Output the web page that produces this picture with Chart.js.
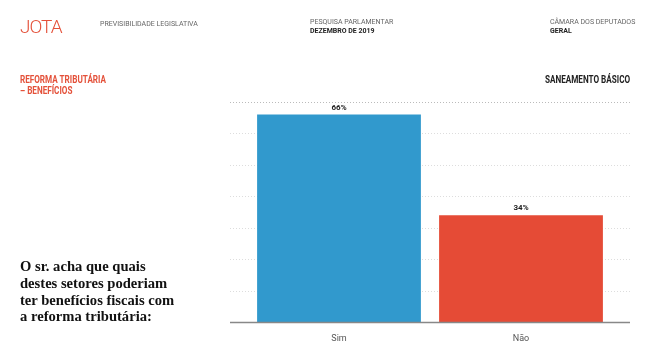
<!DOCTYPE html>
<html>
<head>
<meta charset="utf-8">
<script src="https://cdn.jsdelivr.net/npm/chart.js@4"></script>
<style>
body { margin: 0; background: #fff; font-family: Roboto, "Liberation Sans", sans-serif; }
#wrap { position: relative; width: 657px; height: 355px; overflow: hidden; }
#myChart { position: absolute; left: 0; top: 0; }
.t { position: absolute; white-space: nowrap; }
.logo { left: 20px; top: 15px; font-size: 19px; font-weight: 300; color: #e4513a; letter-spacing: -1px; }
.small { font-size: 7px; color: #666; line-height: 9px; }
.small b { color: #222; }
.title { left: 20px; top: 74px; font-family: Roboto, sans-serif; font-weight: bold; font-size: 11px; line-height: 11px; color: #e4513a; transform: scaleX(0.74); transform-origin: left top; }
.sub { right: 27px; top: 74px; font-family: Roboto, sans-serif; font-weight: bold; font-size: 11px; line-height: 11px; color: #222; transform: scaleX(0.74); transform-origin: right top; }
.q { left: 20px; top: 258px; font-family: "Liberation Serif", "DejaVu Serif", serif; font-weight: bold; font-size: 14.6px; line-height: 16.8px; color: #111; }
</style>
</head>
<body>
<div id="wrap">
<canvas id="myChart" width="657" height="355"></canvas>
<div class="t logo">JOTA</div>
<div class="t small" style="left:100px;top:20px;">PREVISIBILIDADE LEGISLATIVA</div>
<div class="t small" style="left:310px;top:18px;">PESQUISA PARLAMENTAR<br><b>DEZEMBRO DE 2019</b></div>
<div class="t small" style="left:550px;top:18px;">CÂMARA DOS DEPUTADOS<br><b>GERAL</b></div>
<div class="t title">REFORMA TRIBUTÁRIA<br>– BENEFÍCIOS</div>
<div class="t sub">SANEAMENTO BÁSICO</div>
<div class="t q">O sr. acha que quais<br>destes setores poderiam<br>ter benefícios fiscais com<br>a reforma tributária:</div>
</div>
<script>
var Categorias = ['Sim', 'Não'];
var Valores = [66, 34];
var Cores = ['#3199cd', '#e54b36'];

// linhas de grade e eixo mais largas que a área do gráfico
var gradePlugin = {
id: 'grade',
beforeDatasetsDraw: function (chart) {
var ctx = chart.ctx;
var y = chart.scales.y;
ctx.save();
for (var v = 10; v <= 70; v += 10) {
var py = Math.round(y.getPixelForValue(v)) + 0.5;
ctx.strokeStyle = v == 70 ? '#bbb' : '#ddd';
ctx.lineWidth = 1;
ctx.setLineDash([1, 2]);
ctx.beginPath();
ctx.moveTo(230, py);
ctx.lineTo(630, py);
ctx.stroke();
}
ctx.restore();
},
afterDatasetsDraw: function (chart) {
var ctx = chart.ctx;
var y = chart.scales.y;
var py = Math.round(y.getPixelForValue(0)) + 0.5;
ctx.save();
ctx.strokeStyle = '#888';
ctx.lineWidth = 1.5;
ctx.beginPath();
ctx.moveTo(230, py);
ctx.lineTo(630, py);
ctx.stroke();
// rótulos dos valores
ctx.fillStyle = '#222';
ctx.font = 'bold 8px Roboto, sans-serif';
ctx.textAlign = 'center';
ctx.textBaseline = 'bottom';
chart.getDatasetMeta(0).data.forEach(function (bar, i) {
ctx.fillText(Valores[i] + '%', bar.x, bar.y - 3);
});
ctx.restore();
}
};

new Chart('myChart', {
type: 'bar',
data: {
labels: Categorias,
datasets: [{
data: Valores,
backgroundColor: Cores,
barPercentage: 0.9,
categoryPercentage: 1.0
}]
},
options: {
responsive: false,
animation: false,
layout: { padding: { left: 248, right: 45, top: 102, bottom: 8 } },
plugins: { legend: { display: false }, tooltip: { enabled: false } },
scales: {
x: {
grid: { display: false },
border: { display: false },
ticks: { color: '#555', font: { size: 9, family: 'Roboto' }, padding: 3 }
},
y: {
display: false,
min: 0,
max: 70
}
}
},
plugins: [gradePlugin]
});
</script>
</body>
</html>
